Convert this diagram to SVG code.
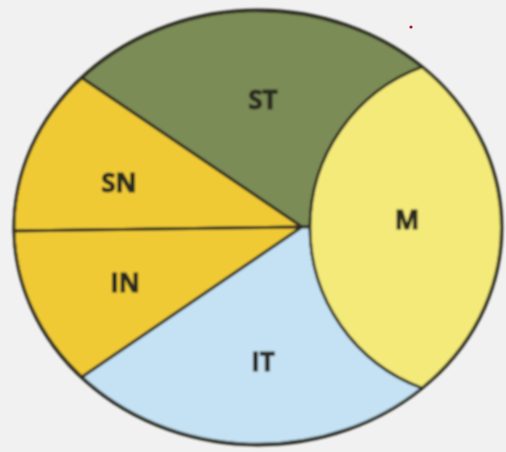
<svg xmlns="http://www.w3.org/2000/svg" width="506" height="452" viewBox="0 0 506 452">
  <defs>
    <filter id="soft" x="-5%" y="-5%" width="110%" height="110%">
      <feGaussianBlur stdDeviation="0.8"/>
    </filter>
    <style>
      .seg { stroke: #2a2a20; stroke-width: 2.8; stroke-linejoin: round; }
      .st { fill: #7b8c57; }
      .gold { fill: #f0ca36; }
      .it { fill: #c4e2f4; }
      .m { fill: #f4ea79; }
      .lbl { font-family: "Open Sans", "Liberation Sans", sans-serif; font-weight: 700; font-size: 26px; fill: #2b2b20; stroke: #2b2b20; stroke-width: 1; text-anchor: middle; }
    </style>
  </defs>

  <rect width="506" height="452" fill="#f1f1f1"/>

  <g filter="url(#soft)">
    <g id="node-st">
      <path class="seg st" d="M302,227 L82,78 A244,217.5 0 0 1 422,67 A171,171 0 0 0 310,227 Z"/>
      <text class="lbl" x="263" y="109">ST</text>
    </g>
    <g id="node-sn">
      <path class="seg gold" d="M302,227 L82,78 A244,217.5 0 0 0 14,231 Z"/>
      <text class="lbl" x="119" y="192">SN</text>
    </g>
    <g id="node-in">
      <path class="seg gold" d="M302,227 L14,231 A244,217.5 0 0 0 82,377 Z"/>
      <text class="lbl" x="125" y="292">IN</text>
    </g>
    <g id="node-it">
      <path class="seg it" d="M302,227 L82,377 A244,217.5 0 0 0 422,388 A171,171 0 0 1 310,227 Z"/>
      <text class="lbl" x="263" y="371">IT</text>
    </g>
    <g id="node-m">
      <path class="seg m" d="M422,67 A244,217.5 0 0 1 422,388 A171,171 0 0 1 422,67 Z"/>
      <text class="lbl" x="407" y="229">M</text>
    </g>
    <g id="connectors">
      <ellipse cx="258" cy="227.5" rx="244" ry="217.5" fill="none" stroke="#2a2a20" stroke-width="2.8"/>
    </g>
  </g>

  <circle cx="411" cy="27" r="1.6" fill="#b0102a"/>
</svg>
